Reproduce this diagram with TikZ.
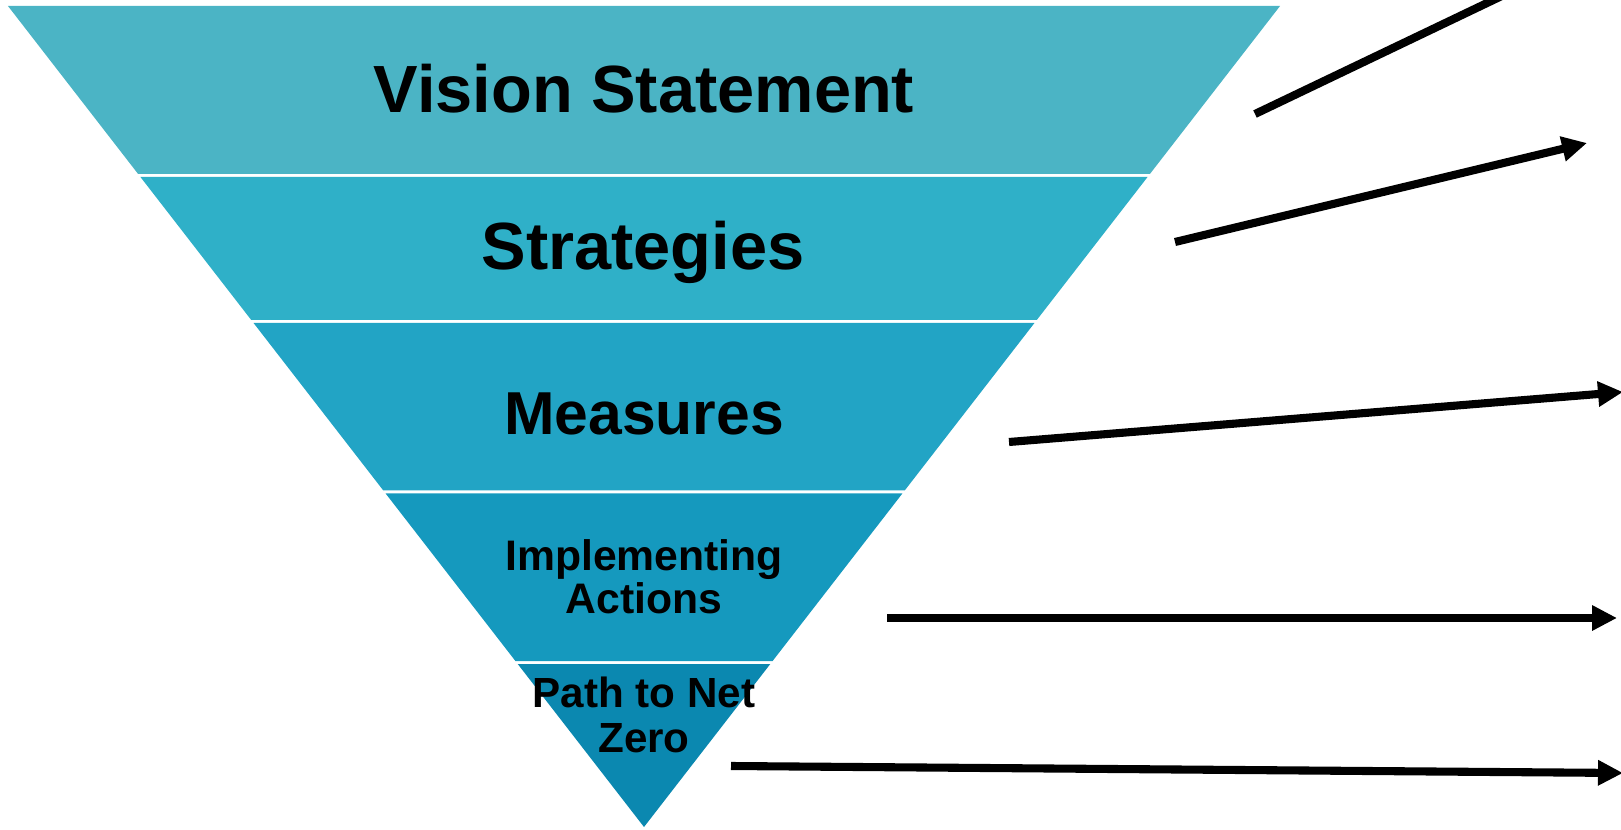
\documentclass[tikz,border=0pt]{standalone}
\usepackage{fontspec}
\setmainfont{Liberation Sans}
\usetikzlibrary{arrows.meta}
\definecolor{bandA}{RGB}{75,180,197}
\definecolor{bandB}{RGB}{47,176,200}
\definecolor{bandC}{RGB}{34,164,197}
\definecolor{bandD}{RGB}{21,153,190}
\definecolor{bandE}{RGB}{11,136,176}
\tikzset{
  lbl/.style={inner sep=0pt, text=black},
  pointer/.style={line width=4.6pt, -{Triangle[length=0.5cm,width=0.48cm]}}
}
\begin{document}
\begin{tikzpicture}[x=0.02cm,y=-0.02cm]
\useasboundingbox (0,0) rectangle (1621,830);
\pgfmathsetmacro{\cx}{644}
\pgfmathsetmacro{\ap}{827}
\pgfmathsetmacro{\sl}{0.7747}
% funnel bands
\foreach \yt/\yb/\col in {6/174/bandA,177/320/bandB,323/490.5/bandC,493.5/661/bandD,664/827/bandE}{
  \pgfmathsetmacro{\wt}{\sl*(\ap-\yt)}
  \pgfmathsetmacro{\wb}{\sl*(\ap-\yb)}
  \fill[\col] (\cx-\wt,\yt)--(\cx+\wt,\yt)--(\cx+\wb,\yb)--(\cx-\wb,\yb)--cycle;
}
% labels
\node[lbl,anchor=base,font=\bfseries\fontsize{38}{42}\selectfont] (vision) at (644,113) {Vision Statement};
\node[lbl,anchor=base,font=\bfseries\fontsize{38}{42}\selectfont] (strat) at (643,270) {Strategies};
\node[lbl,anchor=base,font=\bfseries\fontsize{34.5}{38}\selectfont] (meas) at (644,435) {Measures};
\node[lbl,align=center,font=\bfseries\fontsize{24.3}{24.5}\selectfont] (impl) at (644,577) {Implementing\\Actions};
\node[lbl,align=center,font=\bfseries\fontsize{24}{25.6}\selectfont] (path) at (644,715) {Path to Net\\Zero};
% arrows
\coordinate (vision-out) at (1255,114);
\coordinate (vision-end) at (1600,-51);
\coordinate (strat-out) at (1175,242);
\coordinate (strat-end) at (1587,143);
\coordinate (meas-out) at (1009,442);
\coordinate (meas-end) at (1623,392);
\coordinate (impl-out) at (887,618);
\coordinate (impl-end) at (1617,618);
\coordinate (path-out) at (731,766);
\coordinate (path-end) at (1623,773);
\foreach \n in {vision,strat,meas,impl,path}
  \draw[pointer] (\n-out)--(\n-end);
\end{tikzpicture}
\end{document}
